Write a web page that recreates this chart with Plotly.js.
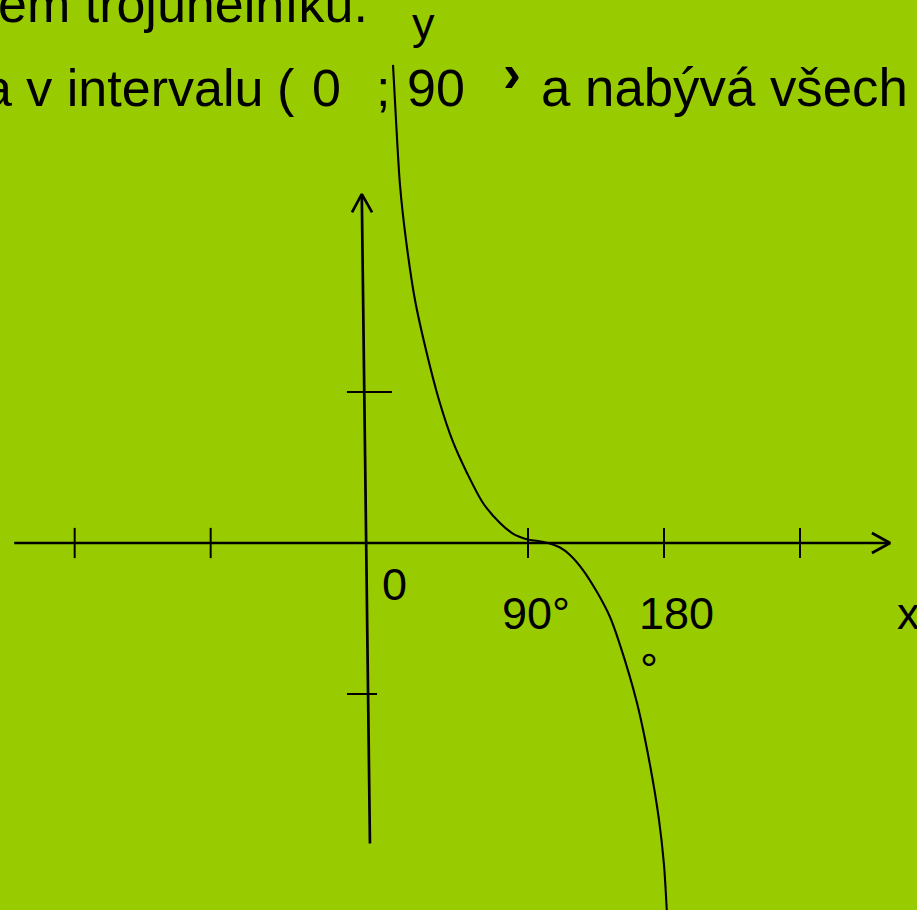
<!DOCTYPE html>
<html>
<head>
<meta charset="utf-8">
<script src="https://cdn.plot.ly/plotly-3.0.1.min.js"></script>
<style>
html,body{margin:0;padding:0;background:#99CC00;overflow:hidden;}
#chart{width:917px;height:910px;}
</style>
</head>
<body>
<div id="chart"></div>
<script>
// ---- data (x in degrees, y in function units) ----
const curveX = [0.66, 2.65, 5.29, 9.26, 15.22, 22.50, 31.10, 40.37, 49.63, 60.22, 71.47, 79.41, 84.71, 90.0, 96.62, 103.24, 111.18, 117.79, 126.40, 135.66, 144.26, 150.88, 162.13, 170.74, 176.69, 180.0, 181.99];
const curveY = [3.166, 2.801, 2.371, 2.007, 1.609, 1.278, 0.947, 0.669, 0.464, 0.265, 0.132, 0.066, 0.040, 0.023, 0.013, 0.0, -0.030, -0.079, -0.179, -0.325, -0.490, -0.675, -1.060, -1.470, -1.834, -2.132, -2.464];

const xAxisX = [-250, 329.6];
const xAxisY = [0, 0];
const xArrowX = [317.6, 329.6, 317.6];
const xArrowY = [0.066, 0, -0.066];
const xTicks = [-210, -120, 90, 180, 270];

const yAxisX = [-14.6, -20.0];
const yAxisY = [-1.99, 2.31];
const yArrowX = [-26.5, -20.0, -13.2];
const yArrowY = [2.19, 2.31, 2.19];
const yTicks = [1, -1];
const yTickLeft = [-29.8, -29.8];
const yTickRight = [0, -9.9];

const xLabels = ["0", "90°", "180"];
const axisNames = ["x", "y"];
const textLine1 = "em trojúhelníku.";
const textLine2 = ["a v intervalu", "(", "0", ";", "90", "›", "a nabývá všech"];

// ---- geometry of the picture ----
const W = 917, H = 910;
const X0 = 392, DEG_PER_PX = 90 / 136, Y0 = 543, PX_PER_UNIT = 151;
const xRange = [(0 - X0) * DEG_PER_PX, (W - X0) * DEG_PER_PX];
const yRange = [(Y0 - H) / PX_PER_UNIT, Y0 / PX_PER_UNIT];

const tickHalf = 0.1;
const tx = [], ty = [];
xTicks.forEach(v => { tx.push(v, v, null); ty.push(-tickHalf, tickHalf, null); });
yTicks.forEach((v, i) => { tx.push(yTickLeft[i], yTickRight[i], null); ty.push(v, v, null); });

const black = '#000000';
const traces = [
  {x: xAxisX, y: xAxisY, mode: 'lines', line: {color: black, width: 2.7}, hoverinfo: 'skip'},
  {x: xArrowX, y: xArrowY, mode: 'lines', line: {color: black, width: 2.7}, hoverinfo: 'skip'},
  {x: yAxisX, y: yAxisY, mode: 'lines', line: {color: black, width: 2.7}, hoverinfo: 'skip'},
  {x: yArrowX, y: yArrowY, mode: 'lines', line: {color: black, width: 2.7}, hoverinfo: 'skip'},
  {x: tx, y: ty, mode: 'lines', line: {color: black, width: 2}, hoverinfo: 'skip', connectgaps: false},
  {x: curveX, y: curveY, mode: 'lines', line: {color: black, width: 2.1, shape: 'spline', smoothing: 0.8}, hoverinfo: 'skip'}
];

const FONT = '"Liberation Sans", Arial, sans-serif';
// place text by its baseline (px) and origin (px)
function txt(text, originPx, baselinePx, size, anchor) {
  const top = baselinePx - 1 - 0.905 * size;
  const a = {
    text: text, showarrow: false, xref: 'paper', yref: 'paper',
    yanchor: 'top', y: 1 - top / H,
    font: {family: FONT, size: size, color: black}
  };
  if (anchor === 'right') { a.xanchor = 'right'; a.x = (originPx + 1) / W; }
  else { a.xanchor = 'left'; a.x = (originPx - 1) / W; }
  return a;
}

const TOP = 52, LAB = 45;
const chevron = txt('<b>' + textLine2[5] + '</b>', 502, 91, 54);
const annotations = [
  txt(textLine1, -3, 21, TOP),
  txt(textLine2[0], 264, 105, TOP, 'right'),
  txt(textLine2[1], 276, 105, TOP),
  txt(textLine2[2], 311, 105, TOP),
  txt(textLine2[3], 375, 105, TOP),
  txt(textLine2[4], 406, 105, TOP),
  chevron,
  txt(textLine2[6], 540, 105, 52.8),
  txt(axisNames[1], 411, 38, LAB),
  txt(axisNames[0], 896, 628, LAB),
  txt(xLabels[0], 381, 599, LAB),
  txt(xLabels[1], 501, 628, LAB),
  txt(xLabels[2], 638, 628, LAB),
  txt("°", 639, 684, LAB)
];

const layout = {
  width: W, height: H,
  margin: {l: 0, r: 0, t: 0, b: 0, pad: 0},
  paper_bgcolor: '#99CC00', plot_bgcolor: '#99CC00',
  showlegend: false,
  xaxis: {range: xRange, visible: false, fixedrange: true},
  yaxis: {range: yRange, visible: false, fixedrange: true},
  annotations: annotations
};

Plotly.newPlot('chart', traces, layout, {displayModeBar: false, staticPlot: true});
</script>
</body>
</html>
